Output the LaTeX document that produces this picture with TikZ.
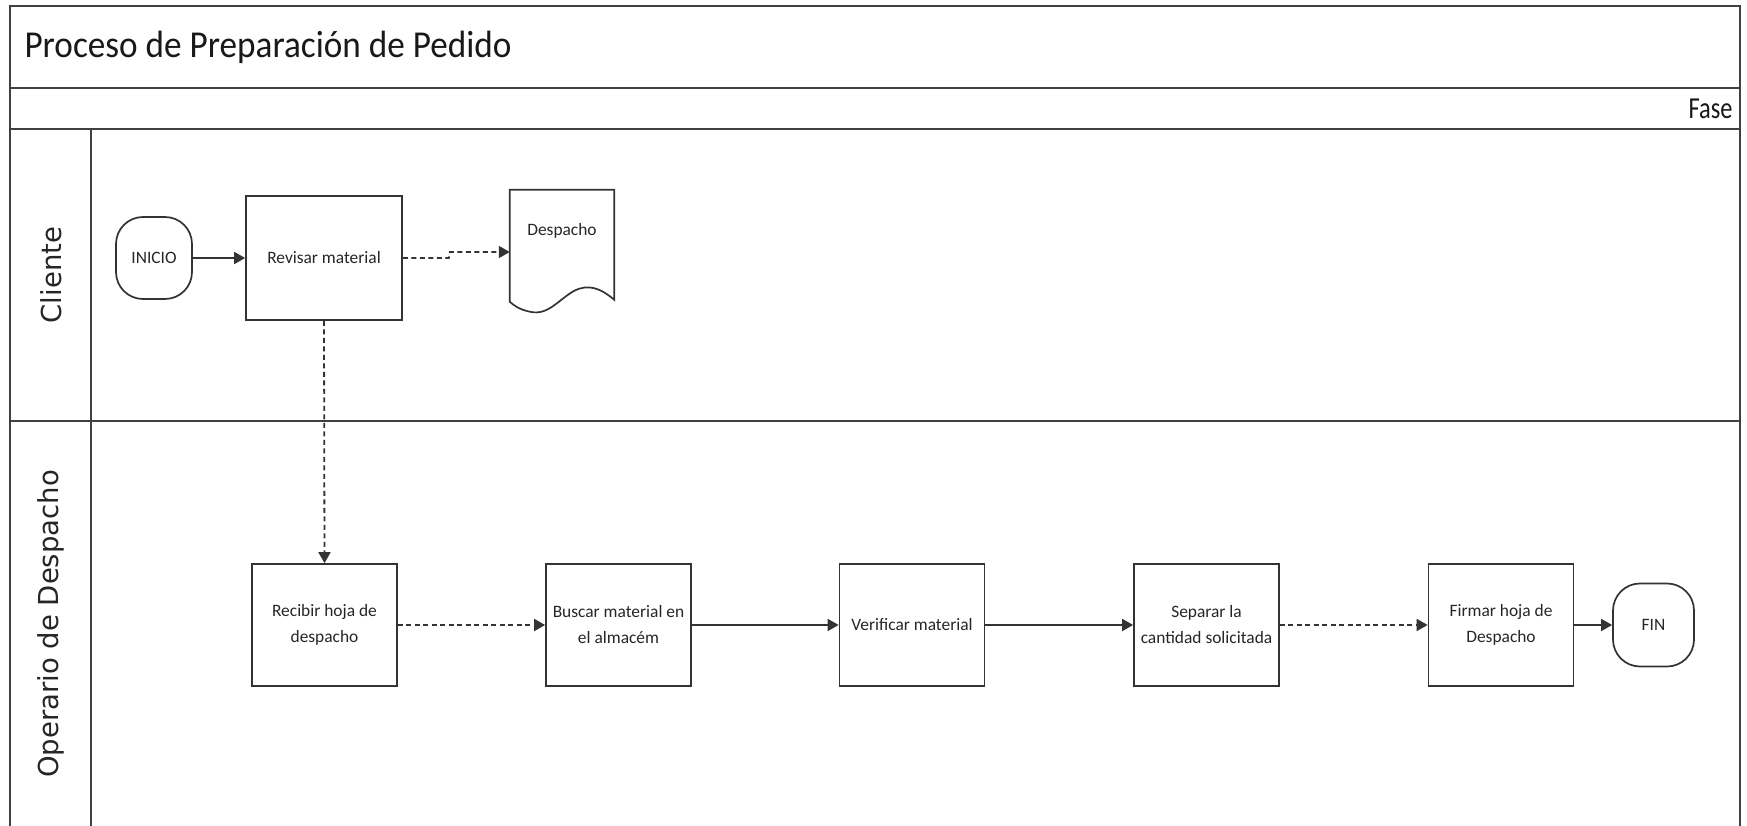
\documentclass[tikz,border=0pt]{standalone}
\usepackage{fontspec}
\setmainfont{Carlito}
\newfontfamily\lanefont{DejaVu Sans}
\usetikzlibrary{arrows.meta,calc}
\tikzset{
  frameline/.style={draw=black!75, line width=1.8pt},
  procbox/.style={draw=black!80, line width=1.7pt, minimum width=145pt,
    minimum height=122pt, align=center, inner sep=0pt, text=black!85,
    font=\fontsize{17.4}{26}\selectfont},
  termbox/.style={procbox, rounded corners=27pt},
  lanelabel/.style={rotate=90, text=black!85, font=\lanefont\fontsize{27.5}{30}\selectfont},
  flow/.style={draw=black!80, line width=1.8pt, -{Triangle[length=11pt,width=12pt]}},
  dflow/.style={flow, dash pattern=on 5pt off 3.5pt}
}
\begin{document}
\begin{tikzpicture}[x=1pt,y=-1pt]
\useasboundingbox (0,0) rectangle (1747,826);
\fill[white] (0,0) rectangle (1747,826);

% pool frame, open at the bottom
\draw[frameline] (10,826) -- (10,6) -- (1740,6) -- (1740,826);
\draw[frameline] (10,88) -- (1740,88);
\draw[frameline] (10,129) -- (1740,129);
\draw[frameline] (10,421) -- (1740,421);
\draw[frameline] (91,129) -- (91,826);

% headings
\node[anchor=base west, text=black!90, font=\fontsize{35.2}{40}\selectfont] (title) at (21,58) {\scalebox{1}[1.08]{Proceso de Preparación de Pedido}};
\node[anchor=base east, text=black!90, font=\fontsize{30.5}{34}\selectfont] (fase) at (1736,119) {\scalebox{0.8}[1]{Fase}};

% lane labels
\node[lanelabel] (lcli) at (51,275) {Cliente};
\node[lanelabel] (lope) at (51,624) {Operario de Despacho};

% Cliente lane
\node[termbox, minimum width=76pt, minimum height=82pt] (inicio) at (154,258) {INICIO};
\node[procbox, minimum width=156pt, minimum height=124pt] (rev) at (324,258) {Revisar material};
\node[minimum width=104pt, minimum height=112pt, inner sep=0pt] (desp) at (562,246) {};
\draw[draw=black!80, line width=1.7pt, fill=white]
  (desp.north west) -- (desp.north east) -- ($(desp.north east)+(0,110)$)
  .. controls ($(desp.north east)+(-14,98)$) and ($(desp.north east)+(-26,94)$) .. ($(desp.north east)+(-40,101)$)
  .. controls ($(desp.north east)+(-56,110)$) and ($(desp.north east)+(-66,126)$) .. ($(desp.north east)+(-84,122)$)
  .. controls ($(desp.north east)+(-94,120)$) and ($(desp.north east)+(-100,116)$) .. ($(desp.north west)+(0,112)$)
  -- cycle;
\node[text=black!85, font=\fontsize{17.4}{26}\selectfont] (desptxt) at ($(desp.center)+(0,-15)$) {Despacho};

% Operario de Despacho lane
\node[procbox] (recibir) at (324.5,625) {Recibir hoja de\\despacho};
\node[procbox] (buscar) at (618.5,625) {Buscar material en\\el almacém};
\node[procbox] (verif) at (912,625) {Verificar material};
\node[procbox] (separar) at (1206.5,625) {Separar la\\cantidad solicitada};
\node[procbox] (firmar) at (1501,625) {Firmar hoja de\\Despacho};
\node[termbox, minimum width=81pt, minimum height=83pt] (fin) at (1653.5,625) {FIN};

% connectors
\coordinate (kink) at (450,252);
\draw[flow] (inicio) -- (rev);
\draw[dflow] (rev.east) -- ++(46,0) -- (kink) -- (kink -| desp.west);
\draw[dflow] (rev.south) -- (recibir.north);
\draw[dflow] (recibir) -- (buscar);
\draw[flow] (buscar) -- (verif);
\draw[flow] (verif) -- (separar);
\draw[dflow] (separar) -- (firmar);
\draw[flow] (firmar) -- (fin);
\end{tikzpicture}
\end{document}
